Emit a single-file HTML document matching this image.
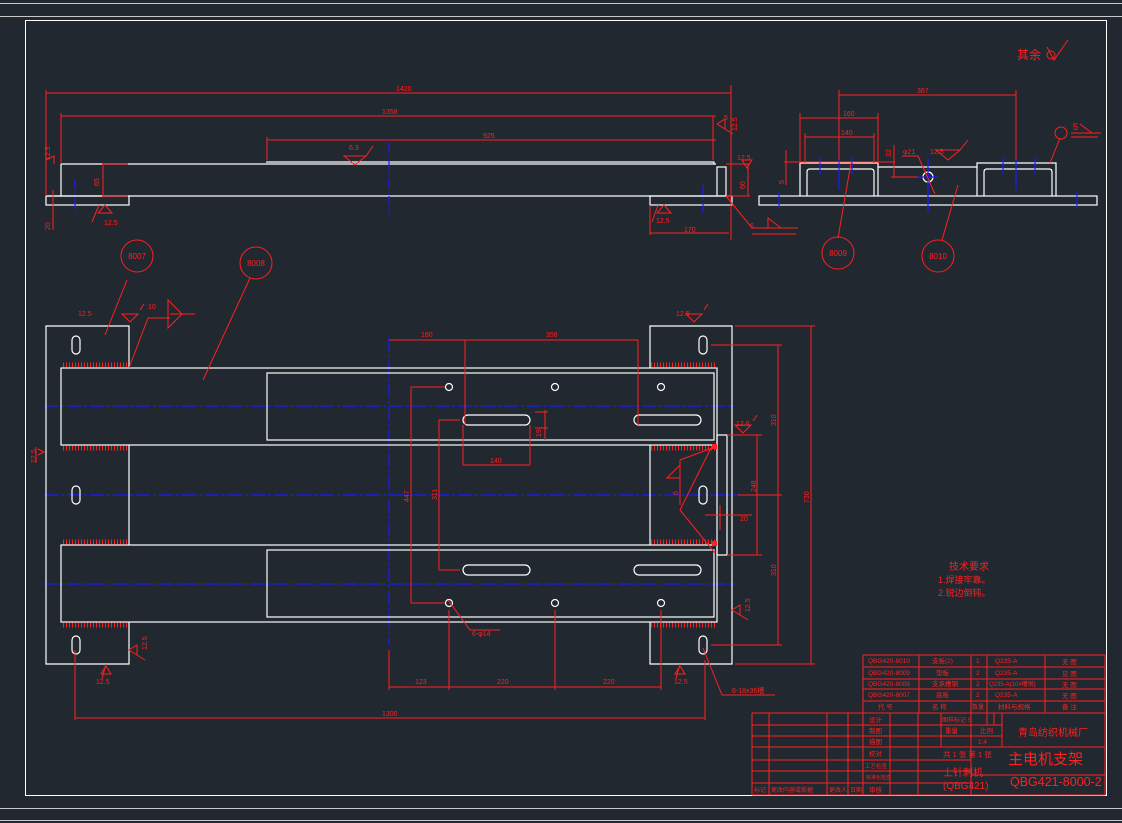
<!DOCTYPE html>
<html><head><meta charset="utf-8"><style>
html,body{margin:0;padding:0;background:#212830;}
svg{display:block;}
text{font-family:"Liberation Sans","Noto Sans CJK SC",sans-serif;fill:#ff2020;}
</style></head><body>
<svg width="1122" height="823" viewBox="0 0 1122 823" xmlns="http://www.w3.org/2000/svg">
<rect width="1122" height="823" fill="#212830"/>
<g stroke="#c8c8c8" stroke-width="1" fill="none">
<line x1="0" y1="3.5" x2="1122" y2="3.5"/>
<line x1="0" y1="16.5" x2="1122" y2="16.5"/>
<line x1="0" y1="808.5" x2="1122" y2="808.5"/>
<line x1="0" y1="820.5" x2="1122" y2="820.5"/>
</g>
<rect x="25.5" y="20.5" width="1081" height="775" fill="none" stroke="#fff" stroke-width="1"/>

<!-- centerlines -->
<g stroke="#1a1aff" stroke-width="1.2" stroke-dasharray="14,3,3,3" fill="none">
<line x1="44" y1="406" x2="735" y2="406"/>
<line x1="44" y1="495" x2="740" y2="495"/>
<line x1="44" y1="584" x2="735" y2="584"/>
<line x1="389" y1="338" x2="389" y2="645"/>
</g>

<!-- plan view white geometry -->
<g stroke="#fff" stroke-width="1.2" fill="none">
<path d="M129 368 V326 H46 V664 H129 V622"/>
<path d="M129 445 V545"/>
<path d="M650 368 V326 H732 V664 H650 V622"/>
<path d="M650 445 V545"/>
<rect x="61" y="368" width="656" height="77"/>
<rect x="61" y="545" width="656" height="77"/>
<rect x="267" y="373" width="447" height="67"/>
<rect x="267" y="550" width="447" height="67"/>
<rect x="717" y="435" width="10" height="120"/>
<rect x="72" y="336" width="8" height="18" rx="4"/>
<rect x="72" y="486" width="8" height="18" rx="4"/>
<rect x="72" y="636" width="8" height="18" rx="4"/>
<rect x="699" y="336" width="8" height="18" rx="4"/>
<rect x="699" y="486" width="8" height="18" rx="4"/>
<rect x="699" y="636" width="8" height="18" rx="4"/>
<rect x="463" y="415" width="67" height="10" rx="5"/>
<rect x="634" y="415" width="67" height="10" rx="5"/>
<rect x="463" y="565" width="67" height="10" rx="5"/>
<rect x="634" y="565" width="67" height="10" rx="5"/>
<circle cx="449" cy="387" r="3.5"/><circle cx="555" cy="387" r="3.5"/><circle cx="661" cy="387" r="3.5"/>
<circle cx="449" cy="603" r="3.5"/><circle cx="555" cy="603" r="3.5"/><circle cx="661" cy="603" r="3.5"/>
</g>
<!-- weld hatches -->
<g stroke="#ff2020" stroke-width="1" stroke-dasharray="1,2">
<line x1="63" y1="365" x2="128" y2="365" stroke-width="5"/>
<line x1="63" y1="448" x2="128" y2="448" stroke-width="5"/>
<line x1="63" y1="542" x2="128" y2="542" stroke-width="5"/>
<line x1="63" y1="625" x2="128" y2="625" stroke-width="5"/>
<line x1="651" y1="365" x2="715" y2="365" stroke-width="5"/>
<line x1="651" y1="448" x2="715" y2="448" stroke-width="5"/>
<line x1="651" y1="542" x2="715" y2="542" stroke-width="5"/>
<line x1="651" y1="625" x2="715" y2="625" stroke-width="5"/>
</g>

<!-- plan dimensions -->
<g stroke="#ff2020" stroke-width="1" fill="none">
<path d="M389 340 H638 M465 340 V425 M638 340 V425"/>
<path d="M463 465 H530 M463 425 V465 M530 425 V465"/>
<path d="M545 410 V440 M535 412 H548 M535 428 H548"/>
<path d="M411 387 H445 M411 387 V603 M411 603 H445"/>
<path d="M439 420 H460 M439 420 V570 M439 570 H460"/>
<path d="M389 650 V690 M389 687 H661 M449 610 V690 M555 610 V690 M661 610 V690"/>
<path d="M75 650 V720 M75 718 H705 M705 660 V720"/>
<path d="M735 326 H815 M735 664 H815 M811 326 V664"/>
<path d="M711 345 H782 M711 645 H782 M778 345 V645 M738 495 H782"/>
<path d="M727 435 H762 M727 555 H762 M757 435 V555"/>
<path d="M705 515 H752 M720 505 V530"/>
<path d="M680 460 L715 447 M680 460 V505 M680 510 L715 553 M680 510 L711 448 M667 478 L680 478 L680 465 Z"/>
<path d="M448 600 L470 630 L500 630"/>
<path d="M703 648 L722 695 L775 695"/>
<path d="M129 368 L148 318 H170 M168 300 V328 L182 314 Z M170 314 H195"/>
<path d="M105 335 L127 280 M203 380 L250 278"/>
<path d="M122 314 L138 314 L130 322 Z M140 310 L144 304"/>
<path d="M686 314 L702 314 L694 322 Z M704 310 L708 304"/>
<path d="M106 664 L102 679 M101 674 L111 674 L106 666 Z"/>
<path d="M680 664 L676 679 M675 674 L685 674 L680 666 Z"/>
<path d="M129 650 L137 645 L137 655 Z M137 655 L145 660"/>
<path d="M732 610 L740 605 L740 615 Z M740 615 L748 620"/>
<path d="M38 455 L44 452 L38 449 M36 447 V463"/>
<path d="M735 425 L751 425 L743 433 Z M753 421 L757 415"/>
</g>
<g fill="#ff2020">
<rect x="712" y="444" width="5" height="5"/><rect x="712" y="541" width="5" height="5"/>
</g>
<g font-size="7">
<text x="421" y="337">180</text><text x="546" y="337">358</text>
<text x="490" y="463">140</text>
<text x="415" y="684">123</text><text x="497" y="684">220</text><text x="603" y="684">220</text>
<text x="382" y="716">1300</text>
<text x="472" y="636">6-φ14</text>
<text x="732" y="693">6-18x36槽</text>
<text x="740" y="521">20</text>
<text x="78" y="316">12.5</text><text x="676" y="316">12.5</text>
<text x="148" y="309">10</text>
<text x="96" y="684">12.5</text><text x="674" y="684">12.5</text>
<text x="736" y="426">12.6</text>
<text transform="translate(409,502) rotate(-90)">447</text>
<text transform="translate(437,500) rotate(-90)">311</text>
<text transform="translate(809,503) rotate(-90)">730</text>
<text transform="translate(776,426) rotate(-90)">310</text>
<text transform="translate(776,576) rotate(-90)">310</text>
<text transform="translate(756,492) rotate(-90)">248</text>
<text transform="translate(541,437) rotate(-90)">19</text>
<text transform="translate(147,650) rotate(-90)">12.5</text>
<text transform="translate(750,612) rotate(-90)">12.5</text>
<text transform="translate(36,463) rotate(-90)">12.5</text>
<text transform="translate(678,495) rotate(-90)">6</text>
</g>

<!-- side view left -->
<g stroke="#fff" stroke-width="1.2" fill="none">
<path d="M61 196 V164 H716 M266 162 H714 V164"/>
<line x1="46" y1="196" x2="716" y2="196"/>
<rect x="46" y="196" width="83" height="9"/>
<rect x="717" y="167" width="9" height="29"/>
<rect x="650" y="196" width="82" height="9"/>
</g>
<g stroke="#1a1aff" stroke-width="1.2" stroke-dasharray="10,3,2,3">
<line x1="75" y1="180" x2="75" y2="216"/>
<line x1="389" y1="142" x2="389" y2="216"/>
<line x1="703" y1="185" x2="703" y2="216"/>
</g>
<g stroke="#ff2020" stroke-width="1" fill="none">
<path d="M46 90 V196 M46 93 H731 M731 85 V240"/>
<path d="M61 113 V164 M61 116 H716 M713 116 V160"/>
<path d="M267 137 V160 M267 140 H716"/>
<path d="M53 190 V230 M53 199 V210"/>
<path d="M102 164 H128 M102 196 H128 M103 164 V196"/>
<path d="M344 156 L366 156 L355 165 Z M366 156 L373 146"/>
<path d="M99 205 L92 222 M98 213 L112 213 L105 205 Z"/>
<path d="M650 205 V235 M650 233 H729"/>
<path d="M658 205 L652 222 M657 213 L671 213 L664 205 Z"/>
<path d="M726 164 H750 M748 164 V196 M726 196 H750 M742 160 L752 160 L747 168 Z"/>
<path d="M726 196 L752 228 H798 M768 218 V228 L781 228 Z M752 234 H796"/>
<path d="M717 124 L725 119 L725 129 Z M725 129 L733 134"/>
<path d="M46 160 L54 156 L54 164"/>
</g>
<g font-size="7">
<text x="396" y="91">1420</text><text x="382" y="114">1358</text><text x="483" y="138">925</text>
<text x="349" y="150">6.3</text>
<text x="104" y="225">12.5</text><text x="656" y="223">12.5</text>
<text x="684" y="232">170</text><text x="750" y="228">6</text>
<text x="737" y="160">12.5</text>
<text transform="translate(99,186) rotate(-90)">65</text>
<text transform="translate(745,189) rotate(-90)">60</text>
<text transform="translate(50,230) rotate(-90)">20</text>
<text transform="translate(50,160) rotate(-90)">12.5</text>
<text transform="translate(737,131) rotate(-90)">12.5</text>
<text x="724" y="120">5</text>
</g>

<!-- side view right -->
<g stroke="#fff" stroke-width="1.2" fill="none">
<rect x="759" y="196" width="338" height="9"/>
<path d="M800 196 V163 H878 V196 M807 196 V172 Q807 169 810 169 H871 Q874 169 874 172 V196"/>
<path d="M977 196 V163 H1056 V196 M984 196 V172 Q984 169 987 169 H1049 Q1052 169 1052 172 V196"/>
<path d="M878 167 H977"/>
<circle cx="928" cy="177" r="5"/>
</g>
<g stroke="#1a1aff" stroke-width="1.2">
<line x1="839" y1="150" x2="839" y2="190"/><line x1="1016" y1="150" x2="1016" y2="190"/>
<line x1="928" y1="158" x2="928" y2="212"/><line x1="918" y1="177" x2="938" y2="177"/>
<line x1="779" y1="192" x2="779" y2="208"/><line x1="1077" y1="192" x2="1077" y2="208"/>
<line x1="820" y1="158" x2="820" y2="174"/><line x1="852" y1="158" x2="852" y2="174"/>
<line x1="1003" y1="158" x2="1003" y2="174"/><line x1="1035" y1="158" x2="1035" y2="174"/>
</g>
<g stroke="#ff2020" stroke-width="1" fill="none">
<path d="M839 95 H1016 M839 90 V160 M1016 90 V160"/>
<path d="M800 118 H878 M800 113 V163 M878 113 V163"/>
<path d="M805 137 H874 M805 133 V163 M874 133 V163"/>
<path d="M784 162 H895 M894 145 V177 M891 177 H918"/>
<path d="M786 150 V185"/>
<path d="M902 156 H918 L935 194"/>
<path d="M936 150 L960 150 L948 160 Z M960 150 L968 140"/>
<path d="M851 163 L838 238 M958 185 L942 240"/>
<path d="M1050 163 L1060 138"/>
<path d="M1071 133 H1101 M1080 124 L1092 133 M1071 137 H1098" />
</g>
<circle cx="1061" cy="133" r="6" stroke="#ff2020" fill="none"/>
<g font-size="7">
<text x="917" y="93">367</text><text x="843" y="116">160</text><text x="841" y="135">140</text>
<text x="903" y="154">φ21</text><text x="930" y="154">12.5</text>
<text x="1073" y="130" font-size="9">5</text>
<text transform="translate(891,157) rotate(-90)">32</text>
<text transform="translate(784,184) rotate(-90)">5</text>
</g>

<!-- balloons -->
<g stroke="#ff2020" stroke-width="1" fill="none">
<circle cx="137" cy="256" r="16"/><circle cx="256" cy="263" r="16"/>
<circle cx="838" cy="253" r="16"/><circle cx="938" cy="256" r="16"/>
</g>
<g font-size="8" text-anchor="middle">
<text x="137" y="259">8007</text><text x="256" y="266">8008</text>
<text x="838" y="256">8009</text><text x="938" y="259">8010</text>
</g>

<!-- tech reqs -->
<g font-size="10">
<text x="949" y="570">技术要求</text>
<text x="938" y="583" font-size="9">1.焊接牢靠。</text>
<text x="938" y="596" font-size="9">2.锐边倒钝。</text>
<text x="1017" y="59" font-size="12">其余</text>
</g>
<g stroke="#ff2020" fill="none"><circle cx="1051" cy="55" r="4"/><path d="M1047 47 L1054 60 L1068 40"/></g>

<!-- title block -->
<g stroke="#ff2020" stroke-width="1" fill="none">
<path d="M863 655 H1105 M863 667 H1105 M863 679 H1105 M863 689 H1105 M863 701 H1105 M752 713 H1105"/>
<path d="M863 655 V795 M919 655 V713 M971 655 V713 M987 655 V713 M1045 655 V713 M1105 655 V795"/>
<path d="M752 713 V795 M752 725 H1002 M752 736 H1002 M752 747 H1105 M752 760 H971 M752 771 H971 M752 783 H971 M752 795 H1105"/>
<path d="M769 713 V795 M827 713 V795 M848 713 V795 M890 713 V795 M918 713 V795 M941 713 V747 M971 713 V795 M1002 713 V747 M987 713 V725 M994 713 V725 M971 775 H1105"/>
</g>
<g font-size="6.5">
<text x="868" y="663">QBG420-8010</text><text x="932" y="663">支板(2)</text><text x="976" y="663">1</text><text x="995" y="663">Q235-A</text><text x="1062" y="664">无 图</text>
<text x="868" y="675">QBG420-8009</text><text x="936" y="675">垫板</text><text x="976" y="675">2</text><text x="995" y="675">Q235-A</text><text x="1062" y="676">见 图</text>
<text x="868" y="686">QBG420-8008</text><text x="932" y="686">支承槽钢</text><text x="976" y="686">2</text><text x="989" y="686" font-size="6">Q235-A(10#槽钢)</text><text x="1062" y="687">无 图</text>
<text x="868" y="697">QBG420-8007</text><text x="936" y="697">底板</text><text x="976" y="697">2</text><text x="995" y="697">Q235-A</text><text x="1062" y="698">无 图</text>
<text x="878" y="709">代 号</text><text x="932" y="709">名 称</text><text x="972" y="709" font-size="6">数量</text><text x="998" y="709">材料与规格</text><text x="1062" y="709">备 注</text>
<text x="869" y="722">设计</text><text x="869" y="733">制图</text><text x="869" y="744">描图</text><text x="869" y="756">校对</text>
<text x="865" y="768" font-size="5.5">工艺检查</text><text x="866" y="779" font-size="5">标准化检查</text><text x="869" y="792">审核</text>
<text x="942" y="722" font-size="6">图样标记 S</text><text x="945" y="733">重量</text><text x="980" y="733">比例</text><text x="978" y="744">1:4</text>
<text x="943" y="757" font-size="7.5">共 1 张 第 1 张</text>
<text x="754" y="792" font-size="6">标记</text><text x="771" y="792" font-size="6">更改内容或依据</text><text x="829" y="792" font-size="6">更改人</text><text x="850" y="792" font-size="6">日期</text>
</g>
<text x="943" y="776" font-size="10">上针刺机</text>
<text x="943" y="789" font-size="10">(QBG421)</text>
<text x="1018" y="736" font-size="10">青岛纺织机械厂</text>
<text x="1008" y="764" font-size="15">主电机支架</text>
<text x="1010" y="786" font-size="12.5">QBG421-8000-2</text>
</svg>
</body></html>
